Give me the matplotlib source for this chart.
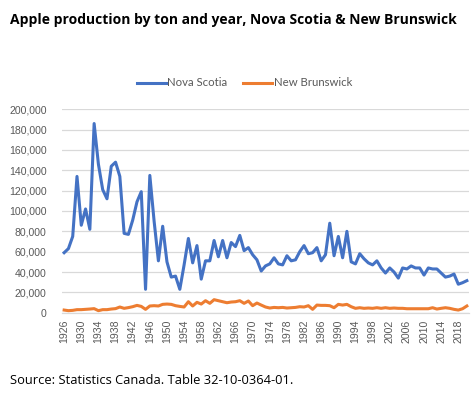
import matplotlib
matplotlib.use("Agg")
import matplotlib.pyplot as plt
import numpy as np

years = list(range(1926, 2021))

nova_scotia = [
    59000, 63000, 75000, 134000, 86000, 102000, 82000, 186000, 146000, 121000,
    112000, 144000, 148000, 134000, 78000, 77000, 91000, 109000, 119000, 23000,
    135000, 90000, 51000, 85000, 50000, 35000, 36000, 23000, 47000, 73000,
    49000, 66000, 33000, 51000, 51000, 71000, 55000, 71000, 54000, 69000,
    65000, 76000, 61000, 64000, 57000, 52000, 41000, 46000, 48000, 54000,
    48000, 47000, 56000, 51000, 52000, 60000, 66000, 58000, 59000, 64000,
    51000, 57000, 88000, 56000, 75000, 54000, 80000, 50000, 48000, 58000,
    53000, 49000, 47000, 51000, 44000, 39000, 44000, 40000, 34000, 44000,
    43000, 46000, 44000, 44000, 37000, 44000, 43000, 43000, 39000, 35000,
    36000, 38000, 28000, 29500, 31500,
]

new_brunswick = [
    2600, 2000, 2300, 3000, 3000, 3300, 3600, 4000, 2000, 3000,
    3000, 3600, 4000, 5600, 4300, 5000, 5900, 7200, 6200, 3300,
    6600, 6900, 6600, 8200, 8500, 8200, 6900, 6200, 5600, 10800,
    6600, 10200, 8500, 11800, 9200, 12800, 11800, 10800, 9800, 10500,
    10800, 11800, 9200, 11500, 6900, 9500, 7500, 5600, 4600, 5200,
    4900, 5200, 4600, 4900, 5200, 5900, 5600, 6900, 3300, 7500,
    7200, 7200, 6900, 4900, 8200, 7500, 8200, 5900, 4300, 4900,
    4300, 4600, 4300, 4900, 4300, 4900, 4300, 4600, 4300, 4300,
    3900, 3900, 3900, 3900, 3900, 3900, 4900, 3600, 4300, 4900,
    4300, 3300, 2600, 3900, 6600,
]

title = "Apple production by ton and year, Nova Scotia & New Brunswick"
source = "Source: Statistics Canada. Table 32-10-0364-01."
series_names = ["Nova Scotia", "New Brunswick"]
colors = ["#4472C4", "#ED7D31"]

fig = plt.figure(figsize=(4.77, 3.98), dpi=100)
ax = fig.add_axes([62 / 477, 1 - 312.7 / 398, (469 - 62) / 477, (312.7 - 109.3) / 398])

x = np.arange(len(years))
for vals, name, c in zip([nova_scotia, new_brunswick], series_names, colors):
    ax.plot(x, vals, color=c, lw=2.2, label=name, solid_joinstyle="round", zorder=3)

ax.set_xlim(-0.5, len(years) - 0.5)
ax.set_ylim(0, 200000)
ax.set_yticks(np.arange(0, 200001, 20000))
ax.set_yticklabels([f"{v:,}" for v in range(0, 200001, 20000)], fontsize=7.6,
                   color="#595959", family="Liberation Sans")
tick_idx = [i for i, y in enumerate(years) if (y - 1926) % 4 == 0]
ax.set_xticks(tick_idx)
ax.set_xticklabels([str(years[i]) for i in tick_idx], rotation=90, fontsize=7.6,
                   color="#595959", family="Liberation Sans")
ax.tick_params(axis="x", length=0, pad=5)
ax.tick_params(axis="y", length=0, pad=11)
ax.grid(axis="y", color="#D9D9D9", lw=0.9, zorder=0)
for s in ["top", "right", "left"]:
    ax.spines[s].set_visible(False)
ax.spines["bottom"].set_color("#D9D9D9")
ax.spines["bottom"].set_linewidth(0.9)

fig.text(10 / 477, 1 - 20 / 398, title, fontsize=10.0, fontweight="bold", ha="left", va="center",
         family="Open Sans", color="black")
fig.text(10 / 477, 1 - 380 / 398, source, fontsize=9.3, ha="left", va="center",
         family="Open Sans", color="black")

leg = fig.legend(loc="center", bbox_to_anchor=(244.5 / 477, 1 - 83 / 398), ncol=2, frameon=False,
                 prop={"family": "Lato", "size": 8.2}, handlelength=2.5, handletextpad=0.15,
                 columnspacing=1.4, borderpad=0)
for t in leg.get_texts():
    t.set_color("#595959")

fig.savefig("out.png", dpi=100)
